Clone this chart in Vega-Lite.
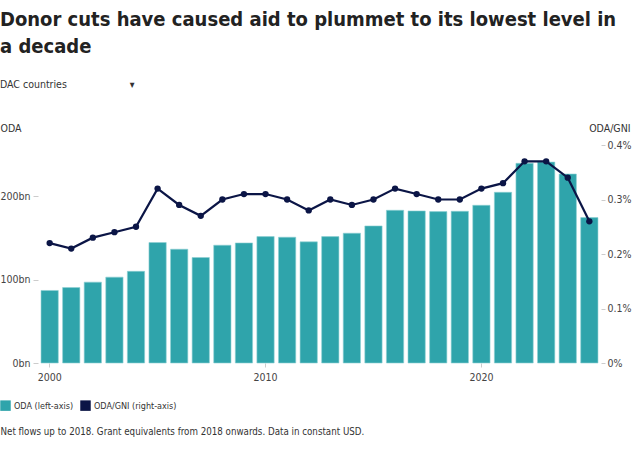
{
  "$schema": "https://vega.github.io/schema/vega-lite/v6.json",
  "width": 563,
  "height": 218,
  "autosize": {"type": "none"},
  "padding": {"left": 38, "top": 145, "right": 31, "bottom": 95},
  "background": "white",
  "config": {
    "font": "'DejaVu Sans Condensed', 'Roboto', sans-serif",
    "view": {"stroke": null}
  },
  "title": {
    "text": ["Donor cuts have caused aid to plummet to its lowest level in", "a decade"],
    "subtitle": "DAC countries\u00a0\u00a0\u00a0\u00a0\u00a0\u00a0\u00a0\u00a0\u00a0\u00a0\u00a0\u00a0\u00a0\u00a0\u00a0\u00a0\u00a0\u00a0\u00a0\u00a0\u00a0▾",
    "anchor": "start",
    "frame": "group",
    "dx": -38,
    "font": "'DejaVu Sans Condensed', 'Roboto', sans-serif",
    "fontSize": 20,
    "fontWeight": "bold",
    "color": "#222222",
    "lineHeight": 27,
    "subtitleFont": "'DejaVu Sans Condensed', 'Roboto', sans-serif",
    "subtitleFontSize": 10.5,
    "subtitleColor": "#333333",
    "subtitlePadding": 23,
    "offset": 33
  },
  "data": {
    "values": [
      {"year": 2000, "oda": 87, "ratio": 0.22},
      {"year": 2001, "oda": 90.5, "ratio": 0.21},
      {"year": 2002, "oda": 97, "ratio": 0.23},
      {"year": 2003, "oda": 103, "ratio": 0.24},
      {"year": 2004, "oda": 110, "ratio": 0.25},
      {"year": 2005, "oda": 144.5, "ratio": 0.32},
      {"year": 2006, "oda": 136.5, "ratio": 0.29},
      {"year": 2007, "oda": 126.5, "ratio": 0.27},
      {"year": 2008, "oda": 141.3, "ratio": 0.30},
      {"year": 2009, "oda": 144, "ratio": 0.31},
      {"year": 2010, "oda": 151.6, "ratio": 0.31},
      {"year": 2011, "oda": 150.9, "ratio": 0.30},
      {"year": 2012, "oda": 145.3, "ratio": 0.28},
      {"year": 2013, "oda": 151.6, "ratio": 0.30},
      {"year": 2014, "oda": 155.7, "ratio": 0.29},
      {"year": 2015, "oda": 164.4, "ratio": 0.30},
      {"year": 2016, "oda": 183.2, "ratio": 0.32},
      {"year": 2017, "oda": 182.4, "ratio": 0.31},
      {"year": 2018, "oda": 181.6, "ratio": 0.30},
      {"year": 2019, "oda": 182, "ratio": 0.30},
      {"year": 2020, "oda": 189.2, "ratio": 0.32},
      {"year": 2021, "oda": 204.8, "ratio": 0.33},
      {"year": 2022, "oda": 239.5, "ratio": 0.37},
      {"year": 2023, "oda": 241, "ratio": 0.37},
      {"year": 2024, "oda": 226.7, "ratio": 0.34},
      {"year": 2025, "oda": 174.4, "ratio": 0.26}
    ]
  },
  "encoding": {
    "x": {
      "field": "year",
      "type": "ordinal",
      "scale": {"paddingInner": 0.2, "paddingOuter": 0.14},
      "axis": {
        "values": [2000, 2010, 2020],
        "labelAngle": 0,
        "labelFontSize": 10.5,
        "labelColor": "#444444",
        "labelPadding": 5,
        "domain": false,
        "ticks": true,
        "tickColor": "#cccccc",
        "tickSize": 4,
        "title": "Net flows up to 2018. Grant equivalents from 2018 onwards. Data in constant USD.",
        "titleX": -38,
        "titleY": 68,
        "titleAlign": "left",
        "titleAnchor": "start",
        "titleBaseline": "middle",
        "titleFontWeight": "normal",
        "titleFontSize": 9.7,
        "titleColor": "#333333"
      }
    }
  },
  "layer": [
    {
      "mark": {"type": "bar", "stroke": "#8fd0d3", "strokeWidth": 0.6},
      "encoding": {
        "y": {
          "field": "oda",
          "type": "quantitative",
          "scale": {"domain": [0, 261.5], "nice": false},
          "axis": {
            "orient": "left",
            "values": [0, 100, 200],
            "labelExpr": "datum.value + 'bn'",
            "labelFontSize": 10.5,
            "labelColor": "#444444",
            "labelPadding": 3,
            "domain": false,
            "grid": false,
            "ticks": true,
            "tickColor": "#cccccc",
            "tickSize": 5,
            "title": "ODA",
            "titleAngle": 0,
            "titleX": -38,
            "titleY": -17,
            "titleAlign": "left",
            "titleBaseline": "middle",
            "titleFontWeight": "normal",
            "titleFontSize": 10.5,
            "titleColor": "#333333"
          }
        },
        "color": {
          "datum": "ODA (left-axis)",
          "scale": {
            "domain": ["ODA (left-axis)", "ODA/GNI (right-axis)"],
            "range": ["#2fa4ab", "#0b1546"]
          },
          "legend": {
            "orient": "none",
            "legendX": -38,
            "legendY": 255,
            "direction": "horizontal",
            "title": null,
            "symbolType": "square",
            "symbolSize": 110,
            "symbolStrokeWidth": 0,
            "symbolOpacity": 1,
            "labelFontSize": 9,
            "labelColor": "#333333",
            "labelOffset": 3,
            "columnPadding": 6
          }
        }
      }
    },
    {
      "layer": [
        {
          "mark": {"type": "line", "color": "#0b1546", "strokeWidth": 2.2},
          "encoding": {
            "y": {
              "field": "ratio",
              "type": "quantitative",
              "scale": {"domain": [0, 0.4], "nice": false},
              "axis": {
                "orient": "right",
                "values": [0, 0.1, 0.2, 0.3, 0.4],
                "labelExpr": "datum.value + '%'",
                "labelFontSize": 10.5,
                "labelColor": "#444444",
                "labelPadding": 2,
                "domain": false,
                "grid": false,
                "ticks": true,
                "tickColor": "#cccccc",
                "tickSize": 4,
                "title": "ODA/GNI",
                "titleAngle": 0,
                "titleX": 29,
                "titleY": -17,
                "titleAlign": "right",
                "titleBaseline": "middle",
                "titleFontWeight": "normal",
                "titleFontSize": 10.5,
                "titleColor": "#333333"
              }
            }
          }
        },
        {
          "mark": {"type": "point", "filled": true, "size": 40, "opacity": 1},
          "encoding": {
            "y": {"field": "ratio", "type": "quantitative"},
            "color": {"datum": "ODA/GNI (right-axis)"}
          }
        }
      ]
    }
  ],
  "resolve": {"scale": {"y": "independent"}}
}
